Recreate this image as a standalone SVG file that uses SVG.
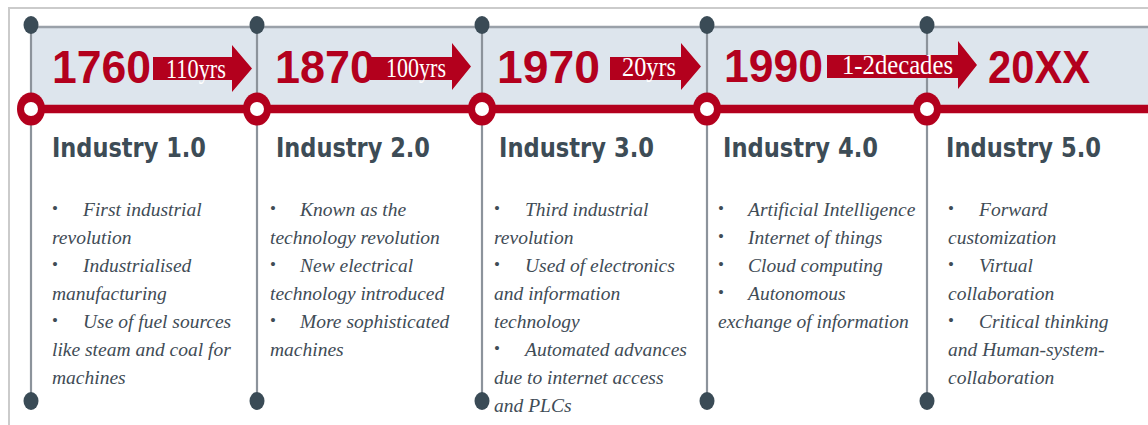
<svg xmlns="http://www.w3.org/2000/svg" width="1148" height="425" viewBox="0 0 1148 425">
  <style>
    .frame { fill: none; stroke: #cbcbcb; stroke-width: 2; }
    .band { fill: #dde5ed; }
    .band-top { stroke: #9aa1a9; stroke-width: 2.5; }
    .rail { stroke: #b3001d; stroke-width: 8.5; }
    .stem { stroke: #8c939b; stroke-width: 2.2; }
    .dot { fill: #3a4b56; }
    .ring { fill: #b3001d; }
    .hole { fill: #ffffff; }
    .arrow { fill: #b3001d; }
    .year { font-family: "Liberation Sans", Arial, sans-serif; font-weight: bold; font-size: 46px; fill: #b3001d; }
    .span { font-family: "Liberation Serif", "Times New Roman", serif; font-size: 27px; fill: #ffffff; }
    .title { font-family: "DejaVu Sans", Verdana, sans-serif; font-weight: bold; font-size: 27px; fill: #3d4c56; }
    .item { font-family: "Liberation Serif", "Times New Roman", serif; font-style: italic; font-size: 19.5px; fill: #3f4c56; }
    .bullet { font-family: "Liberation Serif", "Times New Roman", serif; font-size: 17px; fill: #3f4c56; }
  </style>

  <!-- outer frame -->
  <path class="frame" d="M9 425 V8 H1148"/>

  <!-- timeline band -->
  <rect class="band" x="31" y="27" width="1117" height="79"/>
  <line class="band-top" x1="31" y1="27" x2="1148" y2="27"/>

  <g id="connectors">
    <!-- vertical stems -->
    <line class="stem" x1="31" y1="25" x2="31" y2="401"/>
    <line class="stem" x1="257" y1="25" x2="257" y2="401"/>
    <line class="stem" x1="482" y1="25" x2="482" y2="401"/>
    <line class="stem" x1="707" y1="25" x2="707" y2="401"/>
    <line class="stem" x1="927" y1="25" x2="927" y2="401"/>
    <!-- red rail -->
    <line class="rail" x1="31" y1="109" x2="1148" y2="109"/>
    <!-- interval arrows -->
    <path class="arrow" d="M153 57 H232 V45 L252 68.5 L232 92 V80 H153 Z"/>
    <path class="arrow" d="M370 57 H452 V43 L471 66.5 L452 90 V80 H370 Z"/>
    <path class="arrow" d="M610 57 H681 V43 L701 66.5 L681 90 V80 H610 Z"/>
    <path class="arrow" d="M827 55 H958 V41 L977 65 L958 89 V78 H827 Z"/>
    <text class="span" x="166" y="78" textLength="60" lengthAdjust="spacingAndGlyphs">110yrs</text>
    <text class="span" x="386" y="77" textLength="60" lengthAdjust="spacingAndGlyphs">100yrs</text>
    <text class="span" x="622" y="76" textLength="54" lengthAdjust="spacingAndGlyphs">20yrs</text>
    <text class="span" x="842" y="74" textLength="111" lengthAdjust="spacingAndGlyphs">1-2decades</text>
  </g>

  <!-- Industry 1.0 -->
  <g id="industry-1">
    <ellipse class="dot" cx="31" cy="25" rx="7.5" ry="9"/>
    <ellipse class="dot" cx="31" cy="401" rx="7.5" ry="9"/>
    <ellipse class="ring" cx="31" cy="109" rx="14" ry="16.5"/>
    <circle class="hole" cx="31" cy="109" r="7"/>
    <text class="year" x="52" y="83" textLength="99" lengthAdjust="spacingAndGlyphs">1760</text>
    <text class="title" x="52" y="157" textLength="154" lengthAdjust="spacingAndGlyphs">Industry 1.0</text>
    <text class="bullet" x="52" y="214">•</text>
    <text class="item" x="83" y="216">First industrial</text>
    <text class="item" x="52" y="244">revolution</text>
    <text class="bullet" x="52" y="270">•</text>
    <text class="item" x="83" y="272">Industrialised</text>
    <text class="item" x="52" y="300">manufacturing</text>
    <text class="bullet" x="52" y="326">•</text>
    <text class="item" x="83" y="328">Use of fuel sources</text>
    <text class="item" x="52" y="356">like steam and coal for</text>
    <text class="item" x="52" y="384">machines</text>
  </g>

  <!-- Industry 2.0 -->
  <g id="industry-2">
    <ellipse class="dot" cx="257" cy="25" rx="7.5" ry="9"/>
    <ellipse class="dot" cx="257" cy="401" rx="7.5" ry="9"/>
    <ellipse class="ring" cx="257" cy="109" rx="14" ry="16.5"/>
    <circle class="hole" cx="257" cy="109" r="7"/>
    <text class="year" x="275" y="83" textLength="100" lengthAdjust="spacingAndGlyphs">1870</text>
    <text class="title" x="276" y="157" textLength="154" lengthAdjust="spacingAndGlyphs">Industry 2.0</text>
    <text class="bullet" x="270" y="214">•</text>
    <text class="item" x="300" y="216">Known as the</text>
    <text class="item" x="270" y="244">technology revolution</text>
    <text class="bullet" x="270" y="270">•</text>
    <text class="item" x="300" y="272">New electrical</text>
    <text class="item" x="270" y="300">technology introduced</text>
    <text class="bullet" x="270" y="326">•</text>
    <text class="item" x="300" y="328">More sophisticated</text>
    <text class="item" x="270" y="356">machines</text>
  </g>

  <!-- Industry 3.0 -->
  <g id="industry-3">
    <ellipse class="dot" cx="482" cy="25" rx="7.5" ry="9"/>
    <ellipse class="dot" cx="482" cy="401" rx="7.5" ry="9"/>
    <ellipse class="ring" cx="482" cy="109" rx="14" ry="16.5"/>
    <circle class="hole" cx="482" cy="109" r="7"/>
    <text class="year" x="497" y="83" textLength="103" lengthAdjust="spacingAndGlyphs">1970</text>
    <text class="title" x="499" y="157" textLength="155" lengthAdjust="spacingAndGlyphs">Industry 3.0</text>
    <text class="bullet" x="494" y="214">•</text>
    <text class="item" x="525" y="216">Third industrial</text>
    <text class="item" x="494" y="244">revolution</text>
    <text class="bullet" x="494" y="270">•</text>
    <text class="item" x="525" y="272">Used of electronics</text>
    <text class="item" x="494" y="300">and information</text>
    <text class="item" x="494" y="328">technology</text>
    <text class="bullet" x="494" y="354">•</text>
    <text class="item" x="525" y="356">Automated advances</text>
    <text class="item" x="494" y="384">due to internet access</text>
    <text class="item" x="494" y="412">and PLCs</text>
  </g>

  <!-- Industry 4.0 -->
  <g id="industry-4">
    <ellipse class="dot" cx="707" cy="25" rx="7.5" ry="9"/>
    <ellipse class="dot" cx="707" cy="401" rx="7.5" ry="9"/>
    <ellipse class="ring" cx="707" cy="109" rx="14" ry="16.5"/>
    <circle class="hole" cx="707" cy="109" r="7"/>
    <text class="year" x="724" y="82" textLength="99" lengthAdjust="spacingAndGlyphs">1990</text>
    <text class="title" x="723" y="157" textLength="155" lengthAdjust="spacingAndGlyphs">Industry 4.0</text>
    <text class="bullet" x="718" y="214">•</text>
    <text class="item" x="748" y="216">Artificial Intelligence</text>
    <text class="bullet" x="718" y="242">•</text>
    <text class="item" x="748" y="244">Internet of things</text>
    <text class="bullet" x="718" y="270">•</text>
    <text class="item" x="748" y="272">Cloud computing</text>
    <text class="bullet" x="718" y="298">•</text>
    <text class="item" x="748" y="300">Autonomous</text>
    <text class="item" x="718" y="328">exchange of information</text>
  </g>

  <!-- Industry 5.0 -->
  <g id="industry-5">
    <ellipse class="dot" cx="927" cy="25" rx="7.5" ry="9"/>
    <ellipse class="dot" cx="927" cy="401" rx="7.5" ry="9"/>
    <ellipse class="ring" cx="927" cy="109" rx="14" ry="16.5"/>
    <circle class="hole" cx="927" cy="109" r="7"/>
    <text class="year" x="988" y="83" textLength="102" lengthAdjust="spacingAndGlyphs">20XX</text>
    <text class="title" x="946" y="157" textLength="155" lengthAdjust="spacingAndGlyphs">Industry 5.0</text>
    <text class="bullet" x="948" y="214">•</text>
    <text class="item" x="979" y="216">Forward</text>
    <text class="item" x="948" y="244">customization</text>
    <text class="bullet" x="948" y="270">•</text>
    <text class="item" x="979" y="272">Virtual</text>
    <text class="item" x="948" y="300">collaboration</text>
    <text class="bullet" x="948" y="326">•</text>
    <text class="item" x="979" y="328">Critical thinking</text>
    <text class="item" x="948" y="356">and Human-system-</text>
    <text class="item" x="948" y="384">collaboration</text>
  </g>
</svg>
